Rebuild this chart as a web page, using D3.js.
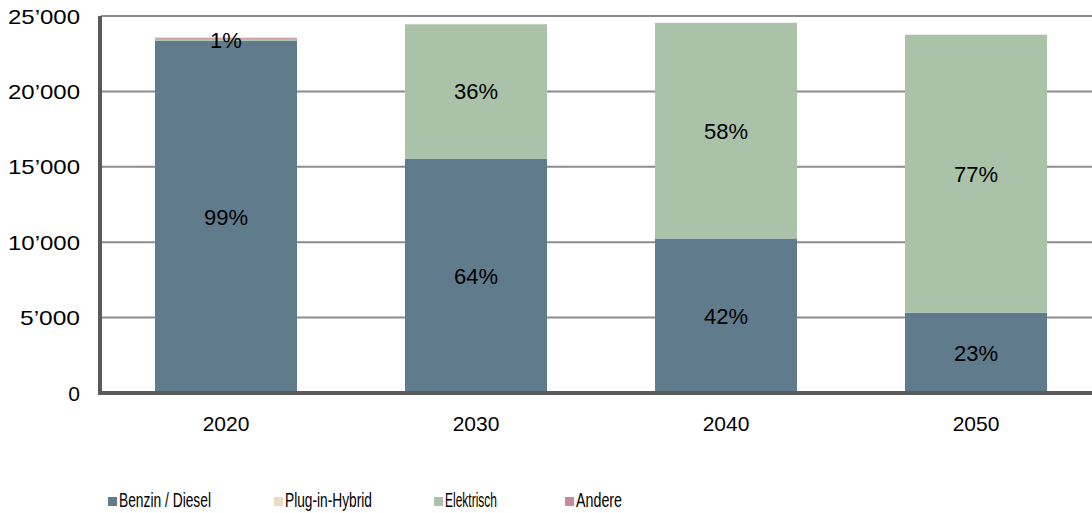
<!DOCTYPE html>
<html>
<head>
<meta charset="utf-8">
<script src="https://cdn.jsdelivr.net/npm/d3@7"></script>
<style>
body { margin: 0; background: #fff; }
svg { display: block; font-family: "Liberation Sans", Arial, sans-serif; }
</style>
</head>
<body>
<svg id="chart" width="1092" height="513"></svg>
<script>
var years = ["2020", "2030", "2040", "2050"];
var seriesNames = ["Benzin / Diesel", "Plug-in-Hybrid", "Elektrisch", "Andere"];
var benzin = [23350, 15550, 10250, 5330];
var plugin = [0, 0, 0, 0];
var elektrisch = [140, 8900, 14300, 18430];
var andere = [70, 0, 0, 0];
var benzinLabels = ["99%", "64%", "42%", "23%"];
var elektrischLabels = ["1%", "36%", "58%", "77%"];
var yTicks = [0, 5000, 10000, 15000, 20000, 25000];

var colors = ["#5f7b8c", "#e8dcc4", "#a9c2a8", "#c48b9b"];

var svg = d3.select("#chart");
var x0 = 101, x1 = 1101, yBottom = 393, yTop = 16;

var rows = years.map(function (y, i) {
    return { year: y, b: benzin[i], p: plugin[i], e: elektrisch[i], a: andere[i] };
});
var keys = ["b", "p", "e", "a"];
var stacked = d3.stack().keys(keys)(rows);

var x = d3.scaleBand().domain(years).range([x0, x1]).paddingInner(0.432).paddingOuter(0.216);
var y = d3.scaleLinear().domain([0, 25000]).range([yBottom, yTop]);

var fmt = function (v) {
    return d3.format(",")(v).replace(/,/g, "\u2019");
};

// gridlines
svg.append("g")
    .selectAll("line")
    .data(yTicks.filter(function (d) { return d > 0; }))
    .enter()
    .append("line")
    .attr("x1", x0)
    .attr("x2", 1092)
    .attr("y1", function (d) { return y(d); })
    .attr("y2", function (d) { return y(d); })
    .attr("stroke", "#8c8c8c")
    .attr("stroke-width", 2);

// bars
svg.append("g")
    .selectAll("g")
    .data(stacked)
    .enter()
    .append("g")
    .attr("fill", function (d, i) { return colors[i]; })
    .selectAll("rect")
    .data(function (d) { return d; })
    .enter()
    .append("rect")
    .attr("x", function (d) { return x(d.data.year); })
    .attr("y", function (d) { return y(d[1]); })
    .attr("width", x.bandwidth())
    .attr("height", function (d) { return y(d[0]) - y(d[1]); });

// segment labels
function addLabels(layer, labels) {
    svg.append("g")
        .selectAll("text")
        .data(layer)
        .enter()
        .append("text")
        .attr("x", function (d) { return x(d.data.year) + x.bandwidth() / 2; })
        .attr("y", function (d) { return (y(d[0]) + y(d[1])) / 2; })
        .attr("dy", "0.36em")
        .attr("text-anchor", "middle")
        .attr("font-size", 22)
        .attr("fill", "#000")
        .text(function (d, i) { return labels[i]; });
}
addLabels(stacked[0], benzinLabels);
addLabels(stacked[2], elektrischLabels);

// axes
svg.append("line")
    .attr("x1", x0 - 1).attr("x2", 1092)
    .attr("y1", yBottom).attr("y2", yBottom)
    .attr("stroke", "#5a5a5a").attr("stroke-width", 4);
svg.append("line")
    .attr("x1", x0 - 1).attr("x2", x0 - 1)
    .attr("y1", yTop).attr("y2", yBottom + 2)
    .attr("stroke", "#5a5a5a").attr("stroke-width", 4);

svg.append("g")
    .selectAll("text")
    .data(yTicks)
    .enter()
    .append("text")
    .attr("x", 80)
    .attr("y", function (d) { return y(d); })
    .attr("dy", "0.36em")
    .attr("text-anchor", "end")
    .attr("font-size", 21)
    .attr("textLength", function (d) { return d === 0 ? null : (d < 10000 ? 60 : 72); })
    .attr("lengthAdjust", "spacingAndGlyphs")
    .text(fmt);

svg.append("g")
    .selectAll("text")
    .data(years)
    .enter()
    .append("text")
    .attr("x", function (d) { return x(d) + x.bandwidth() / 2; })
    .attr("y", 423)
    .attr("dy", "0.36em")
    .attr("text-anchor", "middle")
    .attr("font-size", 21)
    .text(function (d) { return d; });

// legend
var legendX = [108, 274, 434, 565];
var legendW = [92, 87, 52, 46];
var legend = svg.append("g")
    .selectAll("g")
    .data(seriesNames)
    .enter()
    .append("g")
    .attr("transform", function (d, i) { return "translate(" + legendX[i] + ",497)"; });
legend.append("rect")
    .attr("width", 9)
    .attr("height", 9)
    .attr("fill", function (d, i) { return colors[i]; });
legend.append("text")
    .attr("x", 11)
    .attr("y", 10)
    .attr("font-size", 21)
    .attr("textLength", function (d, i) { return legendW[i]; })
    .attr("lengthAdjust", "spacingAndGlyphs")
    .text(function (d) { return d; });
</script>
</body>
</html>
